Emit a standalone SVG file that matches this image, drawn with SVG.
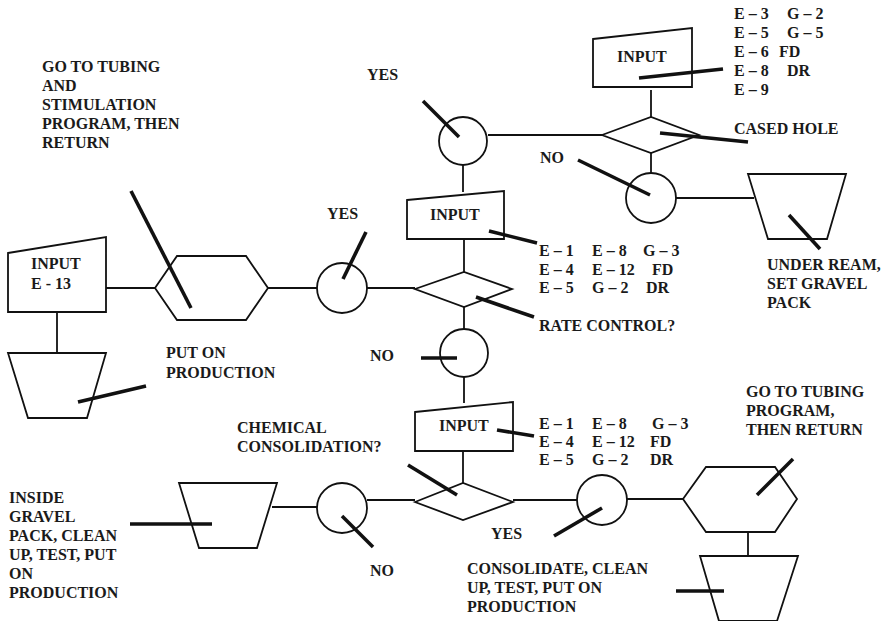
<svg xmlns="http://www.w3.org/2000/svg" width="890" height="621" viewBox="0 0 890 621">
<style>
.s{fill:#fff;stroke:#111;stroke-width:1.8}
.c{stroke:#111;stroke-width:1.8;fill:none}
.l{stroke:#111;stroke-width:3.6;fill:none}
text{font-family:"Liberation Serif","Times New Roman",serif;font-weight:bold;font-size:16px;fill:#1a1a1a}
</style>
<rect width="890" height="621" fill="#fff"/>
<g id="connectors">
<line class="c" x1="651" y1="90" x2="651" y2="117"/>
<line class="c" x1="488" y1="135" x2="602" y2="135"/>
<line class="c" x1="651" y1="153" x2="651" y2="173"/>
<line class="c" x1="676" y1="198" x2="754" y2="198"/>
<line class="c" x1="463" y1="165" x2="463" y2="192"/>
<line class="c" x1="464" y1="239" x2="464" y2="272"/>
<line class="c" x1="367" y1="288" x2="415" y2="288"/>
<line class="c" x1="268" y1="288" x2="317" y2="288"/>
<line class="c" x1="106" y1="288" x2="155" y2="288"/>
<line class="c" x1="57" y1="312" x2="57" y2="353"/>
<line class="c" x1="464" y1="307" x2="464" y2="329"/>
<line class="c" x1="464" y1="377" x2="464" y2="403"/>
<line class="c" x1="463" y1="451" x2="463" y2="483"/>
<line class="c" x1="513" y1="500" x2="577" y2="500"/>
<line class="c" x1="627" y1="499" x2="683" y2="499"/>
<line class="c" x1="748" y1="532" x2="748" y2="556"/>
<line class="c" x1="367" y1="500" x2="415" y2="500"/>
<line class="c" x1="272" y1="507" x2="317" y2="507"/>
</g>
<g id="input-top">
<polygon class="s" points="593,39 692,28 692,87 593,87"/>
<text x="617" y="62">INPUT</text>
</g>
<g id="codes-top">
<text y="19"><tspan x="734">E – 3</tspan><tspan x="787">G – 2</tspan></text>
<text y="38"><tspan x="734">E – 5</tspan><tspan x="787">G – 5</tspan></text>
<text y="57"><tspan x="734">E – 6</tspan><tspan x="779">FD</tspan></text>
<text y="76"><tspan x="734">E – 8</tspan><tspan x="787">DR</tspan></text>
<text y="95"><tspan x="734">E – 9</tspan></text>
</g>
<g id="cased-hole">
<polygon class="s" points="602,135 651,117 699,135 651,153"/>
<text x="734" y="134">CASED HOLE</text>
</g>
<g id="yes-top">
<circle class="s" cx="463" cy="141" r="24"/>
<text x="367" y="80">YES</text>
</g>
<g id="no-top">
<circle class="s" cx="651" cy="198" r="25"/>
<text x="540" y="163">NO</text>
</g>
<g id="under-ream">
<polygon class="s" points="748,174 846,174 827,239 768,239"/>
<text x="767"><tspan x="767" y="270">UNDER REAM,</tspan><tspan x="767" y="289">SET GRAVEL</tspan><tspan x="767" y="308">PACK</tspan></text>
</g>
<g id="input-mid">
<polygon class="s" points="407,200 504,191 504,239 407,239"/>
<text x="430" y="220">INPUT</text>
</g>
<g id="codes-mid">
<text y="256"><tspan x="539">E – 1</tspan><tspan x="592">E – 8</tspan><tspan x="643">G – 3</tspan></text>
<text y="275"><tspan x="539">E – 4</tspan><tspan x="592">E – 12</tspan><tspan x="652">FD</tspan></text>
<text y="293"><tspan x="539">E – 5</tspan><tspan x="592">G – 2</tspan><tspan x="646">DR</tspan></text>
</g>
<g id="rate-control">
<polygon class="s" points="415,289 464,272 512,289 464,307"/>
<text x="539" y="331">RATE CONTROL?</text>
</g>
<g id="yes-mid">
<circle class="s" cx="342" cy="288" r="25"/>
<text x="327" y="219">YES</text>
</g>
<g id="tubing-stim">
<polygon class="s" points="155,288 177,256 246,256 268,288 246,320 177,320"/>
<text><tspan x="42" y="72">GO TO TUBING</tspan><tspan x="42" y="91">AND</tspan><tspan x="42" y="110">STIMULATION</tspan><tspan x="42" y="129">PROGRAM, THEN</tspan><tspan x="42" y="148">RETURN</tspan></text>
</g>
<g id="input-e13">
<polygon class="s" points="8,253 106,237 106,312 8,312"/>
<text><tspan x="31" y="269">INPUT</tspan><tspan x="31" y="289">E - 13</tspan></text>
</g>
<g id="put-on-production">
<polygon class="s" points="8,353 106,353 87,418 28,418"/>
<text><tspan x="166" y="358">PUT ON</tspan><tspan x="166" y="378">PRODUCTION</tspan></text>
</g>
<g id="no-mid">
<circle class="s" cx="464" cy="353" r="24"/>
<text x="370" y="361">NO</text>
</g>
<g id="input-bottom">
<polygon class="s" points="415,412 513,402 513,451 415,451"/>
<text x="439" y="431">INPUT</text>
</g>
<g id="codes-bottom">
<text y="429"><tspan x="539">E – 1</tspan><tspan x="592">E – 8</tspan><tspan x="652">G – 3</tspan></text>
<text y="447"><tspan x="539">E – 4</tspan><tspan x="592">E – 12</tspan><tspan x="650">FD</tspan></text>
<text y="465"><tspan x="539">E – 5</tspan><tspan x="592">G – 2</tspan><tspan x="650">DR</tspan></text>
</g>
<g id="chemical-consolidation">
<polygon class="s" points="415,502 463,483 513,502 463,520"/>
<text><tspan x="237" y="433">CHEMICAL</tspan><tspan x="237" y="452">CONSOLIDATION?</tspan></text>
</g>
<g id="yes-bottom">
<circle class="s" cx="602" cy="500" r="25"/>
<text x="491" y="539">YES</text>
</g>
<g id="tubing-program">
<polygon class="s" points="683,499 706,467 775,467 797,499 775,532 706,532"/>
<text><tspan x="746" y="397">GO TO TUBING</tspan><tspan x="746" y="416">PROGRAM,</tspan><tspan x="746" y="435">THEN RETURN</tspan></text>
</g>
<g id="consolidate">
<polygon class="s" points="700,556 798,556 777,621 719,621"/>
<text><tspan x="467" y="574">CONSOLIDATE, CLEAN</tspan><tspan x="467" y="593">UP, TEST, PUT ON</tspan><tspan x="467" y="612">PRODUCTION</tspan></text>
</g>
<g id="no-bottom">
<circle class="s" cx="342" cy="508" r="25"/>
<text x="370" y="576">NO</text>
</g>
<g id="inside-gravel-pack">
<polygon class="s" points="179,483 277,483 257,548 199,548"/>
<text><tspan x="9" y="503">INSIDE</tspan><tspan x="9" y="522">GRAVEL</tspan><tspan x="9" y="541">PACK, CLEAN</tspan><tspan x="9" y="560">UP, TEST, PUT</tspan><tspan x="9" y="579">ON</tspan><tspan x="9" y="598">PRODUCTION</tspan></text>
</g>
<g id="callouts">
<line class="l" x1="639" y1="78" x2="723" y2="69"/>
<line class="l" x1="660" y1="133" x2="748" y2="142"/>
<line class="l" x1="423" y1="101" x2="459" y2="137"/>
<line class="l" x1="578" y1="160" x2="650" y2="195"/>
<line class="l" x1="789" y1="215" x2="820" y2="249"/>
<line class="l" x1="489" y1="231" x2="537" y2="243"/>
<line class="l" x1="476" y1="297" x2="534" y2="317"/>
<line class="l" x1="343" y1="279" x2="366" y2="232"/>
<line class="l" x1="131" y1="191" x2="191" y2="308"/>
<line class="l" x1="78" y1="402" x2="146" y2="386"/>
<line class="l" x1="421" y1="358" x2="457" y2="358"/>
<line class="l" x1="497" y1="430" x2="534" y2="436"/>
<line class="l" x1="408" y1="465" x2="457" y2="495"/>
<line class="l" x1="554" y1="536" x2="602" y2="508"/>
<line class="l" x1="757" y1="495" x2="793" y2="459"/>
<line class="l" x1="676" y1="591" x2="724" y2="591"/>
<line class="l" x1="130" y1="524" x2="212" y2="524"/>
<line class="l" x1="342" y1="516" x2="373" y2="547"/>
</g>
</svg>
